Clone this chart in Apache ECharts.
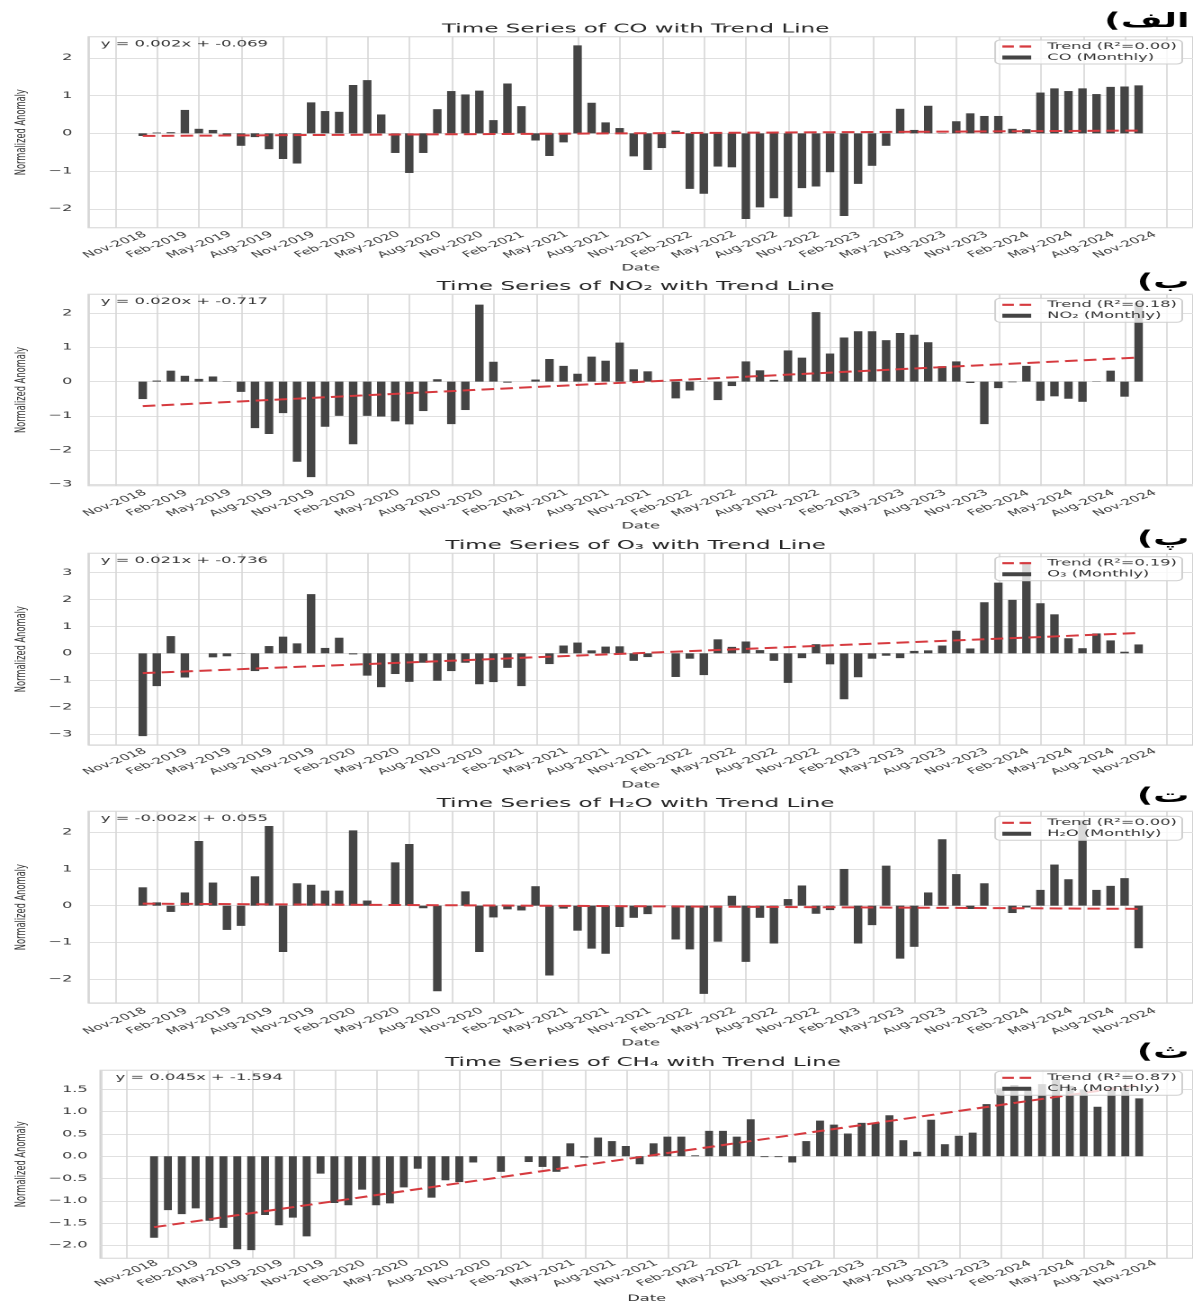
<!DOCTYPE html>
<html>
<head>
<meta charset="utf-8">
<title>Time Series with Trend Lines</title>
<script src="https://cdn.jsdelivr.net/npm/echarts@6/dist/echarts.min.js"></script>
<style>
html,body{margin:0;padding:0;background:#fff;}
#wrap{width:1193px;height:1304px;overflow:hidden;position:relative;background:#fff;}
#chart{width:663px;height:1304px;transform-origin:0 0;}
</style>
</head>
<body>
<div id="wrap"><div id="chart"></div></div>
<script>
// ---------------- data ----------------
const tickLabels = ['Nov-2018','Feb-2019','May-2019','Aug-2019','Nov-2019','Feb-2020','May-2020','Aug-2020',
  'Nov-2020','Feb-2021','May-2021','Aug-2021','Nov-2021','Feb-2022','May-2022','Aug-2022','Nov-2022',
  'Feb-2023','May-2023','Aug-2023','Nov-2023','Feb-2024','May-2024','Aug-2024','Nov-2024'];

const coValues = [-0.07,0.02,0.03,0.62,0.12,0.09,-0.07,-0.33,-0.10,-0.42,
  -0.68,-0.80,0.82,0.59,0.57,1.28,1.41,0.50,-0.52,-1.05,
  -0.52,0.64,1.12,1.03,1.13,0.35,1.32,0.72,-0.19,-0.60,
  -0.24,2.33,0.81,0.29,0.14,-0.61,-0.97,-0.39,0.07,-1.47,
  -1.60,-0.88,-0.90,-2.27,-1.96,-1.72,-2.21,-1.45,-1.41,-1.03,
  -2.19,-1.34,-0.86,-0.33,0.65,0.09,0.73,0.01,0.32,0.53,
  0.46,0.46,0.12,0.11,1.08,1.19,1.12,1.19,1.04,1.23,
  1.24,1.27];

const no2Values = [-0.51,0.03,0.32,0.17,0.08,0.15,-0.01,-0.30,-1.36,-1.53,
  -0.92,-2.34,-2.79,-1.32,-1.00,-1.83,-1.00,-1.02,-1.16,-1.25,
  -0.86,0.07,-1.24,-0.83,2.25,0.58,-0.03,0.00,0.06,0.66,
  0.46,0.23,0.73,0.61,1.14,0.36,0.30,0.01,-0.49,-0.26,
  -0.01,-0.54,-0.13,0.59,0.33,0.05,0.91,0.70,2.03,0.82,
  1.29,1.47,1.47,1.21,1.42,1.37,1.15,0.45,0.59,-0.04,
  -1.24,-0.19,-0.02,0.46,-0.56,-0.43,-0.50,-0.59,0.01,0.32,
  -0.44,2.30];

const o3Values = [-3.08,-1.22,0.64,-0.90,0.00,-0.15,-0.11,-0.01,-0.66,0.27,
  0.62,0.37,2.20,0.20,0.58,-0.04,-0.83,-1.26,-0.77,-1.06,
  -0.35,-1.02,-0.66,-0.35,-1.15,-1.07,-0.54,-1.22,0.00,-0.40,
  0.29,0.40,0.11,0.25,0.26,-0.28,-0.14,0.00,-0.88,-0.20,
  -0.81,0.52,0.24,0.44,0.12,-0.28,-1.10,-0.18,0.34,-0.41,
  -1.71,-0.89,-0.20,-0.09,-0.18,0.09,0.11,0.29,0.84,0.18,
  1.90,2.63,1.99,3.40,1.86,1.45,0.56,0.19,0.74,0.48,
  0.06,0.33];

const h2oValues = [0.50,0.09,-0.17,0.36,1.76,0.63,-0.66,-0.55,0.80,2.17,
  -1.26,0.61,0.57,0.41,0.41,2.05,0.14,0.00,1.18,1.68,
  -0.07,-2.33,0.00,0.39,-1.26,-0.32,-0.10,-0.13,0.53,-1.90,
  -0.08,-0.68,-1.17,-1.31,-0.58,-0.33,-0.23,-0.02,-0.92,-1.19,
  -2.40,-0.98,0.27,-1.53,-0.33,-1.03,0.18,0.55,-0.22,-0.12,
  1.00,-1.03,-0.53,1.09,-1.44,-1.12,0.36,1.81,0.86,-0.09,
  0.61,0.00,-0.20,-0.05,0.43,1.12,0.72,2.33,0.43,0.54,
  0.75,-1.16];

const ch4Values = [-1.83,-1.21,-1.30,-1.17,-1.45,-1.61,-2.09,-2.11,-1.32,-1.55,
  -1.38,-1.80,-0.39,-1.05,-1.10,-0.75,-1.10,-1.06,-0.70,-0.28,
  -0.93,-0.54,-0.58,-0.14,0.00,-0.35,0.00,-0.13,-0.24,-0.35,
  0.29,-0.03,0.42,0.34,0.23,-0.18,0.29,0.44,0.44,0.02,
  0.57,0.57,0.44,0.83,-0.02,-0.02,-0.14,0.34,0.80,0.71,
  0.51,0.75,0.75,0.92,0.36,0.10,0.82,0.27,0.46,0.53,
  1.17,1.52,1.60,1.55,1.62,1.74,1.58,1.50,1.11,1.56,
  1.53,1.30];

const gasNames = ['CO','NO₂','O₃','H₂O','CH₄'];
const equationTexts = ['y = 0.002x + -0.069','y = 0.020x + -0.717','y = 0.021x + -0.736','y = -0.002x + 0.055','y = 0.045x + -1.594'];
const rSquaredTexts = ['0.00','0.18','0.19','0.00','0.87'];
const trendStart = [-0.069,-0.717,-0.736,0.055,-1.594];
const trendEnd = [0.073,0.703,0.755,-0.087,1.601];
const panelTags = ['الف)','ب)','پ)','ت)','ث)'];
const yRanges = [[-2.5,2.56],[-3.04,2.55],[-3.41,3.72],[-2.65,2.57],[-2.29,1.93]];
const yTickSteps = [1,1,1,1,0.5];

// ---------------- layout ----------------
const W0 = 663, H0 = 1304;
const STRETCH = 1193 / W0;
const FONT = 'DejaVu Sans';
const X_MIN = -1.9, X_MAX = 76.85, BAR_OFFSET = 1.97;
const L = {
  left:   [43.5,43.5,43.5,43.5,51.7],
  top:    [36.7,294.3,553.3,811.3,1070.3],
  height: [191,191.4,191.7,191.7,188.4],
  legendTop: [40,298.3,556.7,816.3,1071.3],
  xLabelMargin: [17.3,17.6,16.7,18.3,15.5],
  yNameGap: [26.7,26.7,26.7,26.7,34.9],
  yLabelMargin: [9,9,9,9,7],
  barWidth: [4.7,4.7,4.7,4.7,4.4],
  tagY: [22,283,540,797,1053]
};
const DASH_ICON = 'path://M0,0H12V4H0Z M18,0H30V4H18Z';

const el = document.getElementById('chart');
el.style.transform = 'scaleX(' + STRETCH + ')';
const chart = echarts.init(el, null, {renderer: 'canvas', width: W0, height: H0, devicePixelRatio: 2});

const allValues = [coValues, no2Values, o3Values, h2oValues, ch4Values];
const minus = s => s.replace('-', '\u2212');

const grid = [], xAxis = [], yAxis = [], series = [], legend = [], graphic = [];
for (let p = 0; p < 5; p++) {
  const vals = allValues[p];
  const step = yTickSteps[p];
  const trendName = 'Trend (R²=' + rSquaredTexts[p] + ')';
  const barName = gasNames[p] + ' (Monthly)';
  grid.push({
    left: L.left[p], top: L.top[p], width: W0 - L.left[p], height: L.height[p],
    show: true, borderColor: '#d2d2d2', borderWidth: 1, backgroundColor: 'transparent'
  });
  xAxis.push({
    type: 'value', gridIndex: p, min: X_MIN, max: X_MAX, minInterval: 3, maxInterval: 3,
    name: 'Date', nameLocation: 'middle', nameGap: 35.8,
    nameTextStyle: {fontFamily: FONT, fontSize: 9, color: '#333'},
    axisLine: {show: false, onZero: false}, axisTick: {show: false},
    axisLabel: {
      rotate: 34, align: 'center', verticalAlign: 'middle', margin: L.xLabelMargin[p],
      fontFamily: FONT, fontSize: 8.4, color: '#3a3a3a',
      showMinLabel: false, showMaxLabel: false,
      formatter: v => {
        const k = v / 3, r = Math.round(k);
        return (Math.abs(k - r) < 1e-6 && r >= 0 && r < tickLabels.length) ? tickLabels[r] : '';
      }
    },
    splitLine: {show: true, lineStyle: {color: '#d6d6d6', width: 0.8}}
  });
  yAxis.push({
    type: 'value', gridIndex: p, min: yRanges[p][0], max: yRanges[p][1],
    minInterval: step, maxInterval: step,
    name: 'Normalized Anomaly', nameLocation: 'middle', nameGap: L.yNameGap[p],
    nameTextStyle: {fontFamily: FONT, fontSize: 8.3, color: '#333'},
    axisLine: {show: false}, axisTick: {show: false},
    axisLabel: {
      margin: L.yLabelMargin[p], fontFamily: FONT, fontSize: 9, color: '#3a3a3a',
      showMinLabel: false, showMaxLabel: false,
      formatter: v => {
        const k = v / step, r = Math.round(k);
        if (Math.abs(k - r) > 1e-6) return '';
        const val = r * step;
        return minus(step < 1 ? val.toFixed(1) : String(val));
      }
    },
    splitLine: {show: true, lineStyle: {color: '#e0e0e0', width: 1}}
  });
  series.push({
    type: 'bar', name: barName, xAxisIndex: p, yAxisIndex: p, silent: true,
    data: vals.map((v, i) => [i + BAR_OFFSET, v]),
    barWidth: L.barWidth[p], itemStyle: {color: '#444444'}, z: 2
  });
  series.push({
    type: 'line', name: trendName, xAxisIndex: p, yAxisIndex: p, silent: true,
    data: [[BAR_OFFSET, trendStart[p]], [vals.length - 1 + BAR_OFFSET, trendEnd[p]]],
    symbol: 'none', lineStyle: {color: '#d63a3f', width: 2, type: [7, 3.5]},
    itemStyle: {color: '#d63a3f'}, z: 3
  });
  legend.push({
    orient: 'vertical', right: 6, top: L.legendTop[p],
    itemWidth: 16, itemHeight: 4, itemGap: 2, padding: [2, 3, 2, 4],
    backgroundColor: 'rgba(255,255,255,0.8)', borderColor: '#d0d0d0', borderWidth: 1, borderRadius: 3,
    selectedMode: false,
    textStyle: {fontFamily: FONT, fontSize: 9, color: '#333', padding: [0, 0, 0, 4]},
    data: [{name: trendName, icon: DASH_ICON, itemStyle: {color: '#d63a3f'}}, {name: barName, icon: 'rect'}]
  });
  graphic.push({
    type: 'text', x: (L.left[p] + W0) / 2, y: L.top[p] - 7.4, z: 10,
    style: {text: 'Time Series of ' + gasNames[p] + ' with Trend Line', fontFamily: FONT, fontSize: 12.8,
      fill: '#262626', align: 'center', verticalAlign: 'middle'}
  });
  graphic.push({
    type: 'text', x: L.left[p] + 12.5, y: L.top[p] + 7.5, z: 10,
    style: {text: equationTexts[p], fontFamily: FONT, fontSize: 9.1, fill: '#333',
      align: 'left', verticalAlign: 'middle'}
  });
  graphic.push({
    type: 'text', x: 661, y: L.tagY[p], z: 10,
    style: {text: panelTags[p] + '\u200F', fontFamily: FONT, fontSize: 20, fontWeight: 'bold', fill: '#000',
      align: 'right', verticalAlign: 'middle'}
  });
}

chart.setOption({
  animation: false,
  backgroundColor: '#fff',
  grid, xAxis, yAxis, series, legend, graphic
});
</script>
</body>
</html>
